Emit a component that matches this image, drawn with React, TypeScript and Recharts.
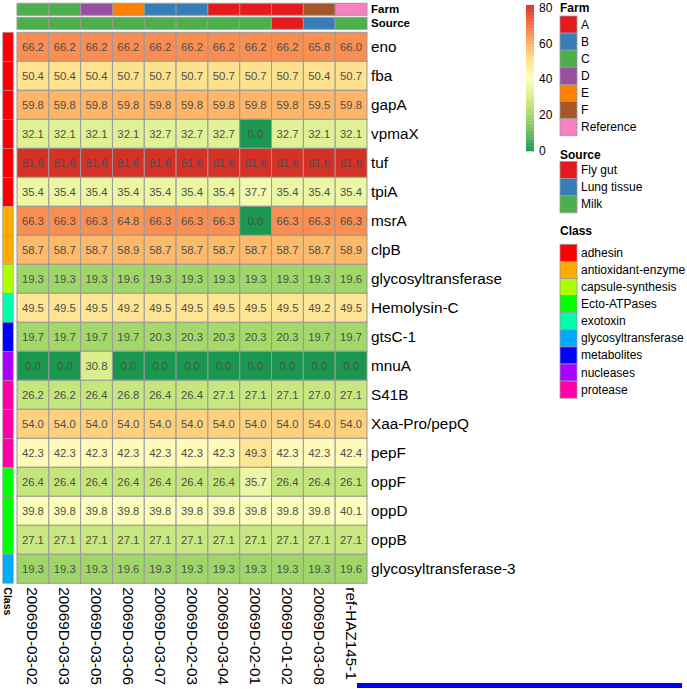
import React from 'react';
import { ScatterChart, Scatter, XAxis, YAxis, Customized } from 'recharts';

// ---------------- data ----------------
const samples = [
  '20069D-03-02', '20069D-03-03', '20069D-03-05', '20069D-03-06', '20069D-03-07',
  '20069D-02-03', '20069D-03-04', '20069D-02-01', '20069D-01-02', '20069D-03-08', 'ref-HAZ145-1',
];
const sampleFarm = ['C', 'C', 'D', 'E', 'B', 'B', 'A', 'A', 'A', 'F', 'Reference'];
const sampleSource = ['Milk', 'Milk', 'Milk', 'Milk', 'Milk', 'Milk', 'Milk', 'Milk', 'Fly gut', 'Lung tissue', 'Milk'];

const genes = [
  'eno', 'fba', 'gapA', 'vpmaX', 'tuf', 'tpiA', 'msrA', 'clpB', 'glycosyltransferase',
  'Hemolysin-C', 'gtsC-1', 'mnuA', 'S41B', 'Xaa-Pro/pepQ', 'pepF', 'oppF', 'oppD', 'oppB',
  'glycosyltransferase-3',
];
const geneClass = [
  'adhesin', 'adhesin', 'adhesin', 'adhesin', 'adhesin', 'adhesin',
  'antioxidant-enzyme', 'antioxidant-enzyme', 'capsule-synthesis', 'exotoxin', 'metabolites',
  'nucleases', 'protease', 'protease', 'protease', 'Ecto-ATPases', 'Ecto-ATPases', 'Ecto-ATPases',
  'glycosyltransferase',
];

// identity values (%), one row per gene, columns in sample order
const cellValues: number[][] = [
  [66.2, 66.2, 66.2, 66.2, 66.2, 66.2, 66.2, 66.2, 66.2, 65.8, 66.0], // eno
  [50.4, 50.4, 50.4, 50.7, 50.7, 50.7, 50.7, 50.7, 50.7, 50.4, 50.7], // fba
  [59.8, 59.8, 59.8, 59.8, 59.8, 59.8, 59.8, 59.8, 59.8, 59.5, 59.8], // gapA
  [32.1, 32.1, 32.1, 32.1, 32.7, 32.7, 32.7, 0.0, 32.7, 32.1, 32.1], // vpmaX
  [81.6, 81.6, 81.6, 81.6, 81.6, 81.6, 81.6, 81.6, 81.6, 81.6, 81.6], // tuf
  [35.4, 35.4, 35.4, 35.4, 35.4, 35.4, 35.4, 37.7, 35.4, 35.4, 35.4], // tpiA
  [66.3, 66.3, 66.3, 64.8, 66.3, 66.3, 66.3, 0.0, 66.3, 66.3, 66.3], // msrA
  [58.7, 58.7, 58.7, 58.9, 58.7, 58.7, 58.7, 58.7, 58.7, 58.7, 58.9], // clpB
  [19.3, 19.3, 19.3, 19.6, 19.3, 19.3, 19.3, 19.3, 19.3, 19.3, 19.6], // glycosyltransferase
  [49.5, 49.5, 49.5, 49.2, 49.5, 49.5, 49.5, 49.5, 49.5, 49.2, 49.5], // Hemolysin-C
  [19.7, 19.7, 19.7, 19.7, 20.3, 20.3, 20.3, 20.3, 20.3, 19.7, 19.7], // gtsC-1
  [0.0, 0.0, 30.8, 0.0, 0.0, 0.0, 0.0, 0.0, 0.0, 0.0, 0.0], // mnuA
  [26.2, 26.2, 26.4, 26.8, 26.4, 26.4, 27.1, 27.1, 27.1, 27.0, 27.1], // S41B
  [54.0, 54.0, 54.0, 54.0, 54.0, 54.0, 54.0, 54.0, 54.0, 54.0, 54.0], // Xaa-Pro/pepQ
  [42.3, 42.3, 42.3, 42.3, 42.3, 42.3, 42.3, 49.3, 42.3, 42.3, 42.4], // pepF
  [26.4, 26.4, 26.4, 26.4, 26.4, 26.4, 26.4, 35.7, 26.4, 26.4, 26.1], // oppF
  [39.8, 39.8, 39.8, 39.8, 39.8, 39.8, 39.8, 39.8, 39.8, 39.8, 40.1], // oppD
  [27.1, 27.1, 27.1, 27.1, 27.1, 27.1, 27.1, 27.1, 27.1, 27.1, 27.1], // oppB
  [19.3, 19.3, 19.3, 19.6, 19.3, 19.3, 19.3, 19.3, 19.3, 19.3, 19.6], // glycosyltransferase-3
];

const farmLevels = ['A', 'B', 'C', 'D', 'E', 'F', 'Reference'];
const farmColors = ['#E41A1C', '#377EB8', '#4DAF4A', '#984EA3', '#FF7F00', '#A65628', '#F781BF'];
const sourceLevels = ['Fly gut', 'Lung tissue', 'Milk'];
const sourceColors = ['#E41A1C', '#377EB8', '#4DAF4A'];
const classLevels = [
  'adhesin', 'antioxidant-enzyme', 'capsule-synthesis', 'Ecto-ATPases', 'exotoxin',
  'glycosyltransferase', 'metabolites', 'nucleases', 'protease',
];
const classColors = ['#FF0000', '#FFAA00', '#AAFF00', '#00FF00', '#00FFAA', '#00AAFF', '#0000FF', '#AA00FF', '#FF00AA'];

const legendTicks = [0, 20, 40, 60, 80];
const paletteColors = ['#1A9850', '#66BD63', '#A6D96A', '#D9EF8B', '#FFFFBF', '#FEE08B', '#FDAE61', '#F46D43', '#D73027'];
const valueMin = 0;
const valueMax = 81.6;

// ---------------- layout ----------------
const W = 687;
const H = 689;
const FONT = '"Liberation Sans", Arial, Helvetica, sans-serif';
const GRID_LEFT = 17;
const GRID_RIGHT = 367;
const GRID_TOP = 32.3;
const GRID_BOTTOM = 583.3;
const NCOL = samples.length;
const NROW = genes.length;
const CW = (GRID_RIGHT - GRID_LEFT) / NCOL;
const RH = (GRID_BOTTOM - GRID_TOP) / NROW;
const X_MIN = -GRID_LEFT / CW;
const Y_MIN = -GRID_TOP / RH;
const FARM_Y = (9.3 - GRID_TOP) / RH;
const SOURCE_Y = (23.3 - GRID_TOP) / RH;
const ANNOT_H = 12;
const CLASS_X = (8 - GRID_LEFT) / CW;
const CLASS_W = 10.5;
const BORDER = '#999999';
const LABEL_SIZE = 15.3;

// ---------------- helpers ----------------
const hexToRgb = (h: string) => [1, 3, 5].map((i) => parseInt(h.slice(i, i + 2), 16));
const valueColor = (v: number) => {
  const t = Math.max(0, Math.min(1, (v - valueMin) / (valueMax - valueMin))) * (paletteColors.length - 1);
  const i = Math.min(paletteColors.length - 2, Math.floor(t));
  const f = t - i;
  const a = hexToRgb(paletteColors[i]);
  const b = hexToRgb(paletteColors[i + 1]);
  const c = a.map((av, k) => Math.round(av + (b[k] - av) * f));
  return `rgb(${c[0]},${c[1]},${c[2]})`;
};

// ---------------- derived series ----------------
const cells = genes.flatMap((g, r) =>
  samples.map((s, c) => ({ x: c + 0.5, y: r + 0.5, value: cellValues[r][c] })),
);
const farmCells = samples.map((s, c) => ({
  x: c + 0.5, y: FARM_Y, color: farmColors[farmLevels.indexOf(sampleFarm[c])],
}));
const sourceCells = samples.map((s, c) => ({
  x: c + 0.5, y: SOURCE_Y, color: sourceColors[sourceLevels.indexOf(sampleSource[c])],
}));
const classCells = genes.map((g, r) => ({
  x: CLASS_X, y: r + 0.5, color: classColors[classLevels.indexOf(geneClass[r])],
}));

const xTicks = [CLASS_X, ...samples.map((s, i) => i + 0.5)];
const yTicks = [FARM_Y, SOURCE_Y, ...genes.map((g, i) => i + 0.5)];

// ---------------- shapes ----------------
const HeatCell = (props: any) => {
  const { cx, cy, payload } = props;
  return (
    <g>
      <rect x={cx - CW / 2} y={cy - RH / 2} width={CW} height={RH} fill={valueColor(payload.value)} stroke={BORDER} strokeWidth={1} />
      <text x={cx} y={cy} textAnchor="middle" dominantBaseline="central" fontSize={11.3} fill="#4D4D4D" fontFamily={FONT}>
        {payload.value.toFixed(1)}
      </text>
    </g>
  );
};
const AnnotCell = (props: any) => {
  const { cx, cy, payload } = props;
  return <rect x={cx - CW / 2} y={cy - ANNOT_H / 2} width={CW} height={ANNOT_H} fill={payload.color} stroke={BORDER} strokeWidth={1} />;
};
const ClassCell = (props: any) => {
  const { cx, cy, payload } = props;
  return <rect x={cx - CLASS_W / 2} y={cy - RH / 2} width={CLASS_W} height={RH} fill={payload.color} stroke={BORDER} strokeWidth={0.6} />;
};

const ColTick = (props: any) => {
  const { x, y, payload } = props;
  const isClass = payload.value < 0;
  const label = isClass ? 'Class' : samples[Math.floor(payload.value)];
  return (
    <text x={x} y={y} transform={`rotate(90 ${x} ${y})`} textAnchor="start" dominantBaseline="central"
      fontSize={isClass ? 10.5 : LABEL_SIZE} fontWeight={isClass ? 'bold' : 'normal'} fill="#000" fontFamily={FONT}>
      {label}
    </text>
  );
};
const RowTick = (props: any) => {
  const { x, y, payload } = props;
  const v = payload.value;
  const isAnnot = v < 0;
  const label = v < -0.5 ? 'Farm' : v < 0 ? 'Source' : genes[Math.floor(v)];
  return (
    <text x={x} y={y} textAnchor="start" dominantBaseline="central" fontSize={isAnnot ? 11.5 : LABEL_SIZE}
      fontWeight={isAnnot ? 'bold' : 'normal'} fill="#000" fontFamily={FONT}>
      {label}
    </text>
  );
};

// ---------------- legends ----------------
const LEG_X = 560;
const SW = 17;
const SH = 17.1;
const LegendBlock = ({ title, titleY, startY, levels, colors }: any) => (
  <g>
    <text x={LEG_X} y={titleY} dominantBaseline="central" fontSize={12} fontWeight="bold" fontFamily={FONT} fill="#000">{title}</text>
    {levels.map((l: string, i: number) => (
      <g key={l}>
        <rect x={LEG_X} y={startY + i * SH} width={SW} height={SH} fill={colors[i]} stroke={BORDER} strokeWidth={0.8} />
        <text x={LEG_X + SW + 4} y={startY + i * SH + SH / 2} dominantBaseline="central" fontSize={12} fontFamily={FONT} fill="#000">{l}</text>
      </g>
    ))}
  </g>
);

const LegendLayer = () => {
  const barX = 526;
  const barW = 8;
  const y0 = 151;
  const pxPerUnit = 1.79;
  const steps = 100;
  const stepV = (valueMax - valueMin) / steps;
  return (
    <g>
      {Array.from({ length: steps }, (_, i) => {
        const v0 = valueMin + i * stepV;
        return (
          <rect key={i} x={barX} y={y0 - (v0 + stepV) * pxPerUnit} width={barW} height={stepV * pxPerUnit + 0.3}
            fill={valueColor(v0 + stepV / 2)} />
        );
      })}
      {legendTicks.map((t) => (
        <text key={t} x={barX + barW + 5} y={y0 - t * pxPerUnit} dominantBaseline="central" fontSize={12} fontFamily={FONT} fill="#000">{t}</text>
      ))}
      <LegendBlock title="Farm" titleY={8.3} startY={16} levels={farmLevels} colors={farmColors} />
      <LegendBlock title="Source" titleY={155} startY={161.5} levels={sourceLevels} colors={sourceColors} />
      <LegendBlock title="Class" titleY={231} startY={244.3} levels={classLevels} colors={classColors} />
      <rect x={357} y={683} width={325} height={5} fill="#0000FF" />
    </g>
  );
};

export default function App() {
  return (
    <div style={{ position: 'absolute', left: 0, top: 0, width: W, height: H, background: '#fff' }}>
      <ScatterChart width={W} height={H} margin={{ top: 0, right: 0, bottom: 0, left: 0 }}>
        <XAxis type="number" dataKey="x" domain={[X_MIN, NCOL]} ticks={xTicks} interval={0}
          axisLine={false} tickLine={false} tickSize={0} tickMargin={4} height={H - GRID_BOTTOM} tick={<ColTick />} />
        <YAxis type="number" dataKey="y" domain={[Y_MIN, NROW]} reversed orientation="right" ticks={yTicks} interval={0}
          axisLine={false} tickLine={false} tickSize={0} tickMargin={4} width={W - GRID_RIGHT} tick={<RowTick />} />
        <Scatter data={cells} shape={<HeatCell />} isAnimationActive={false} />
        <Scatter data={farmCells} shape={<AnnotCell />} isAnimationActive={false} />
        <Scatter data={sourceCells} shape={<AnnotCell />} isAnimationActive={false} />
        <Scatter data={classCells} shape={<ClassCell />} isAnimationActive={false} />
        <Customized component={<LegendLayer />} />
      </ScatterChart>
    </div>
  );
}
